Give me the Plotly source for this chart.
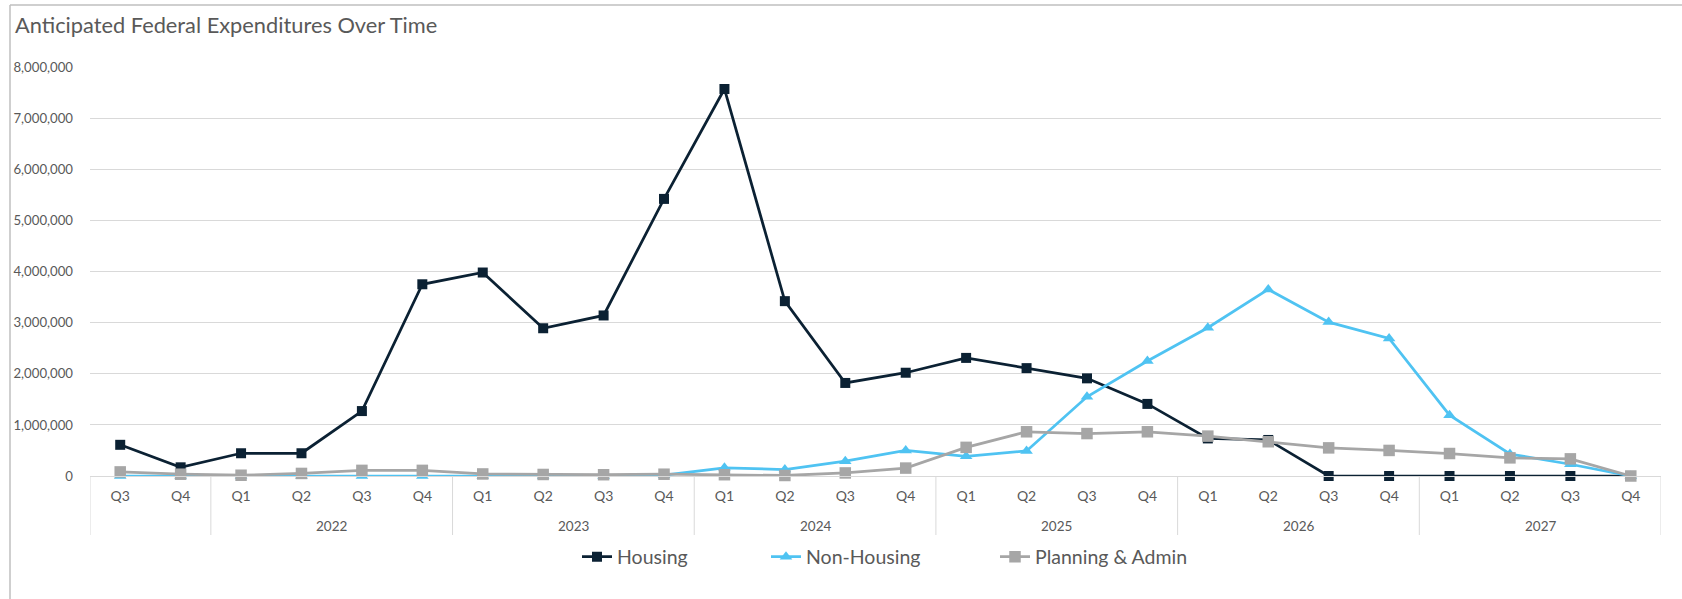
import plotly.graph_objects as go

years = ["", "", "2022", "2022", "2022", "2022", "2023", "2023", "2023", "2023",
         "2024", "2024", "2024", "2024", "2025", "2025", "2025", "2025",
         "2026", "2026", "2026", "2026", "2027", "2027", "2027", "2027"]
quarters = ["Q3", "Q4"] + ["Q1", "Q2", "Q3", "Q4"] * 6

housing = [610000, 170000, 445000, 445000, 1270000, 3750000, 3980000, 2890000, 3140000, 5420000,
           7570000, 3420000, 1820000, 2020000, 2310000, 2110000, 1910000, 1410000,
           735000, 705000, 0, 0, 0, 0, 0, 0]
non_housing = [0, 0, 0, 0, 0, 0, 0, 0, 0, 15000,
               160000, 125000, 290000, 500000, 385000, 490000, 1550000, 2250000,
               2900000, 3650000, 3010000, 2690000, 1190000, 430000, 230000, 0]
planning_admin = [80000, 35000, 15000, 50000, 110000, 110000, 40000, 30000, 25000, 35000,
                  25000, 10000, 60000, 155000, 560000, 865000, 830000, 865000,
                  780000, 670000, 550000, 500000, 440000, 355000, 335000, 0]

font = "Lato, Calibri, Carlito, sans-serif"
txt = "#595959"
grid = "#d9d9d9"

keys = [f"{y}-{q}-{i}" for i, (y, q) in enumerate(zip(years, quarters))]

fig = go.Figure()
fig.add_trace(go.Scatter(x=keys, y=housing, name="Housing", mode="lines+markers", cliponaxis=False,
                         line=dict(color="#0b2133", width=2.75),
                         marker=dict(symbol="square", size=10, color="#0b2133"), legend="legend"))
fig.add_trace(go.Scatter(x=keys, y=non_housing, name="Non-Housing", mode="lines+markers", cliponaxis=False,
                         line=dict(color="#4fc3f2", width=2.75),
                         marker=dict(symbol="triangle-up", size=11, color="#4fc3f2"), legend="legend2"))
fig.add_trace(go.Scatter(x=keys, y=planning_admin, name="Planning & Admin", mode="lines+markers", cliponaxis=False,
                         line=dict(color="#a6a6a6", width=2.75),
                         marker=dict(symbol="square", size=11.5, color="#a6a6a6"), legend="legend3"))

W, H = 1682, 599
L, R, T, B = 90, 21, 67, 123
pw = W - L - R
ph = H - T - B

def lx(px):
    return (px - L) / pw

def py(pixel_y):
    return (H - B - pixel_y) / ph

# group boundaries and year label positions
groups = []
start = 0
for i in range(1, len(years) + 1):
    if i == len(years) or years[i] != years[start]:
        groups.append((years[start], start, i - 1))
        start = i

shapes = []
annotations = []
div_bottom = py(535)
for yr, s, e in groups:
    shapes.append(dict(type="line", xref="x", yref="paper", x0=s - 0.5, x1=s - 0.5,
                       y0=0, y1=div_bottom, line=dict(color=grid, width=1), layer="below"))
    if yr:
        annotations.append(dict(x=(s + e) / 2, y=py(526), xref="x", yref="paper", text=yr,
                                showarrow=False, yanchor="middle",
                                font=dict(family=font, size=13.5, color=txt)))
shapes.append(dict(type="line", xref="x", yref="paper", x0=len(years) - 0.5, x1=len(years) - 0.5,
                   y0=0, y1=div_bottom, line=dict(color=grid, width=1), layer="below"))

# chart-area border (top and left visible)
shapes.append(dict(type="line", xref="paper", yref="paper", x0=lx(10), x1=lx(W + 5),
                   y0=py(5), y1=py(5), line=dict(color="#bfbfbf", width=1.5)))
shapes.append(dict(type="line", xref="paper", yref="paper", x0=lx(10), x1=lx(10),
                   y0=py(5), y1=py(H + 5), line=dict(color="#bfbfbf", width=1.5)))

leg_common = dict(orientation="h", yanchor="middle", xanchor="left", y=py(557),
                  font=dict(family=font, size=19.5, color=txt), bgcolor="rgba(0,0,0,0)",
                  itemwidth=30, tracegroupgap=0)

fig.update_layout(
    width=W, height=H,
    margin=dict(l=L, r=R, t=T, b=B),
    paper_bgcolor="white", plot_bgcolor="white",
    font=dict(family=font, color=txt),
    title=dict(text="Anticipated Federal Expenditures Over Time", x=15 / W, xanchor="left",
               y=1 - 25 / H, yanchor="middle", font=dict(family=font, size=21.8, color=txt)),
    showlegend=True,
    legend=dict(x=lx(577), **leg_common),
    legend2=dict(x=lx(766), **leg_common),
    legend3=dict(x=lx(995), **leg_common),
    xaxis=dict(type="category", showgrid=False, showline=True, linecolor=grid, linewidth=1,
               ticks="", tickmode="array", tickvals=keys, ticktext=quarters,
               tickfont=dict(family=font, size=14, color=txt), zeroline=False,
               range=[-0.5, len(keys) - 0.5], ticklabelstandoff=7, automargin=False),
    yaxis=dict(range=[0, 8000000], dtick=1000000, tickformat=",d", showgrid=True,
               gridcolor=grid, gridwidth=1, zeroline=False, showline=False,
               tickfont=dict(family=font, size=13.2, color=txt), ticks="", ticklabelstandoff=16,
               automargin=False),
    shapes=shapes,
    annotations=annotations,
)

fig.write_html("out.html", config={"displayModeBar": False},
               post_script="document.body.style.margin='0';document.body.style.overflow='hidden';")
